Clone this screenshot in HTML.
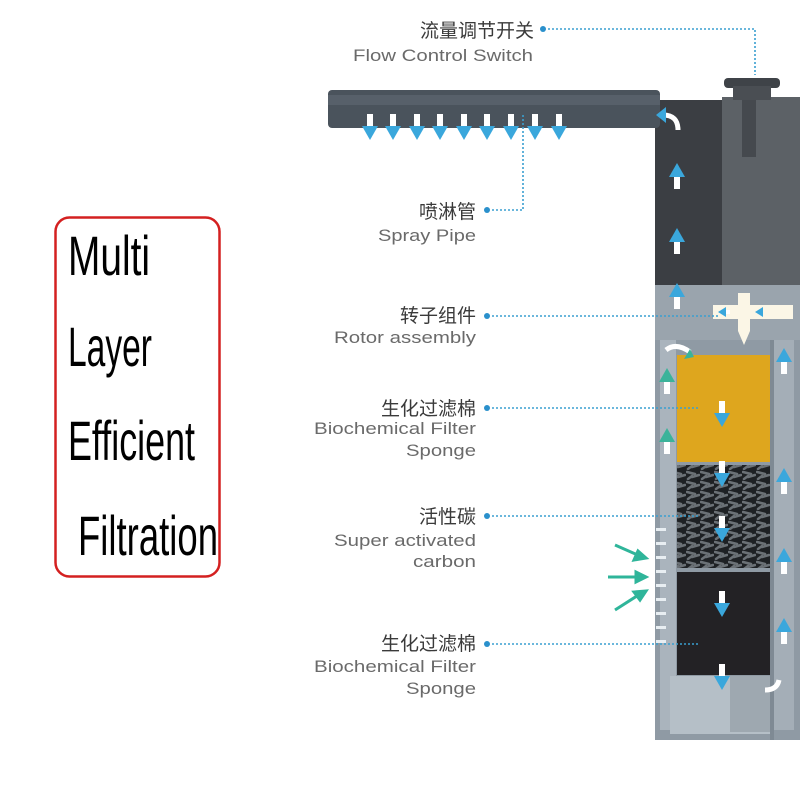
<!DOCTYPE html>
<html><head><meta charset="utf-8"><style>
html,body{margin:0;padding:0;background:#fff;width:800px;height:800px;overflow:hidden}
svg{display:block}
.cn{font-family:"Liberation Sans","Noto Sans CJK SC",sans-serif;font-size:19px;fill:#3a3a3a}
.en{font-family:"Liberation Sans",sans-serif;font-size:17px;fill:#6a6a6a}
.big{font-family:"Liberation Sans",sans-serif;font-size:56px;fill:#000}
.dl{stroke:#3a9fd0;stroke-width:1.6;stroke-dasharray:2 2;fill:none}
</style></head><body>
<svg width="800" height="800" viewBox="0 0 800 800" xmlns="http://www.w3.org/2000/svg">
<defs>
<g id="up"><rect x="-3" y="0" width="6" height="14" fill="#fff"/><path d="M-8 2 L0 -12 L8 2 Z" fill="#3aa7dc"/></g>
<g id="dn"><rect x="-3" y="-14" width="6" height="14" fill="#fff"/><path d="M-8 -2 L0 12 L8 -2 Z" fill="#3aa7dc"/></g>
<g id="upg"><rect x="-3" y="0" width="6" height="14" fill="#fff"/><path d="M-8 2 L0 -12 L8 2 Z" fill="#3bb39a"/></g>
<pattern id="carb" width="14" height="10" patternUnits="userSpaceOnUse"><rect width="14" height="10" fill="#1e2124"/><path d="M1 2 L9 4 M6 7 L13 5 M2 9 L6 6" stroke="#6b7176" stroke-width="2.5" stroke-linecap="round"/></pattern>
</defs>

<rect x="55.5" y="217.5" width="164" height="359" rx="14" fill="none" stroke="#d42020" stroke-width="2.5"/>
<text class="big" x="68" y="275" textLength="82" lengthAdjust="spacingAndGlyphs">Multi</text>
<text class="big" x="68" y="366" textLength="84" lengthAdjust="spacingAndGlyphs">Layer</text>
<text class="big" x="68" y="460" textLength="127" lengthAdjust="spacingAndGlyphs">Efficient</text>
<text class="big" x="78" y="555" textLength="140" lengthAdjust="spacingAndGlyphs">Filtration</text>

<rect x="655" y="285" width="145" height="455" fill="#8f9aa4"/>
<rect x="660" y="340" width="16" height="390" fill="#aab4bd"/>
<rect x="774" y="340" width="20" height="390" fill="#a4aeb7"/>
<rect x="770" y="340" width="4" height="400" fill="#7f8a94"/>
<rect x="677" y="355" width="93" height="107" fill="#dea61e"/>
<rect x="677" y="465" width="93" height="103" fill="url(#carb)"/>
<rect x="677" y="572" width="93" height="103" fill="#232225"/>
<rect x="670" y="676" width="100" height="58" fill="#b5bfc7"/>
<rect x="730" y="676" width="40" height="56" fill="#9ea8b0"/>
<g fill="#e8eef2"><rect x="656" y="528" width="10" height="3"/><rect x="656" y="542" width="10" height="3"/><rect x="656" y="556" width="10" height="3"/><rect x="656" y="570" width="10" height="3"/><rect x="656" y="584" width="10" height="3"/><rect x="656" y="598" width="10" height="3"/><rect x="656" y="612" width="10" height="3"/><rect x="656" y="626" width="10" height="3"/><rect x="656" y="640" width="10" height="3"/></g>
<rect x="655" y="100" width="70" height="187" fill="#3b3e43"/>
<rect x="722" y="97" width="78" height="193" fill="#5c6166"/>
<rect x="742" y="97" width="14" height="60" fill="#45494e"/>
<rect x="724" y="78" width="56" height="10" rx="4" fill="#3f4348"/>
<rect x="733" y="86" width="38" height="14" fill="#4a4e53"/>
<rect x="655" y="285" width="145" height="55" fill="#9aa4ad"/>
<path d="M713 305 h25 v-12 h12 v12 h43 v14 h-43 v12 h-12 v-12 h-25 z" fill="#fbf6e6"/>
<path d="M738 331 h12 l-6 14z" fill="#fbf6e6"/>
<rect x="328" y="90" width="332" height="38" rx="4" fill="#4a535c"/>
<rect x="328" y="95" width="332" height="10" fill="#5d6770" opacity=".7"/>
<use href="#dn" x="370" y="128"/><use href="#dn" x="393" y="128"/><use href="#dn" x="417" y="128"/><use href="#dn" x="440" y="128"/><use href="#dn" x="464" y="128"/><use href="#dn" x="487" y="128"/><use href="#dn" x="511" y="128"/><use href="#dn" x="535" y="128"/><use href="#dn" x="559" y="128"/>
<use href="#up" x="677" y="175"/>
<use href="#up" x="677" y="240"/>
<use href="#up" x="677" y="295"/>
<path d="M678 130 q0-15 -15-15" stroke="#fff" stroke-width="5" fill="none"/><path d="M656 115 l10-8 v16z" fill="#3aa7dc"/>
<path d="M730 312 h-10" stroke="#fff" stroke-width="4"/><path d="M718 312 l8-5 v10z" fill="#3aa7dc"/><path d="M755 312 l8-5 v10z" fill="#3aa7dc"/>
<use href="#upg" x="667" y="380"/><use href="#upg" x="667" y="440"/>
<use href="#up" x="784" y="360"/><use href="#up" x="784" y="480"/><use href="#up" x="784" y="560"/><use href="#up" x="784" y="630"/>
<use href="#dn" x="722" y="415"/><use href="#dn" x="722" y="475"/><use href="#dn" x="722" y="530"/><use href="#dn" x="722" y="605"/><use href="#dn" x="722" y="678"/>
<path d="M666 350 q10-8 24 2" stroke="#fff" stroke-width="5" fill="none"/><path d="M694 357 l-10 2 6-10z" fill="#3bb39a"/>
<path d="M765 690 q12 0 14-10" stroke="#fff" stroke-width="5" fill="none"/>
<g stroke="#2fb59a" stroke-width="3" fill="#2fb59a">
<line x1="615" y1="545" x2="640" y2="556"/><path d="M646 558 l-12 2 4-9z"/>
<line x1="608" y1="577" x2="638" y2="577"/><path d="M646 577 l-10 -5 v10z"/>
<line x1="615" y1="610" x2="640" y2="594"/><path d="M646 591 l-12 1 6 8z"/>
</g>

<g text-anchor="end">
<text class="cn" x="534" y="37">流量调节开关</text>
<text class="en" x="533" y="61" textLength="180" lengthAdjust="spacingAndGlyphs">Flow  Control  Switch</text>
<text class="cn" x="476" y="218">喷淋管</text>
<text class="en" x="476" y="241" textLength="98" lengthAdjust="spacingAndGlyphs">Spray Pipe</text>
<text class="cn" x="476" y="322">转子组件</text>
<text class="en" x="476" y="343" textLength="142" lengthAdjust="spacingAndGlyphs">Rotor assembly</text>
<text class="cn" x="476" y="415">生化过滤棉</text>
<text class="en" x="476" y="434" textLength="162" lengthAdjust="spacingAndGlyphs">Biochemical Filter</text>
<text class="en" x="476" y="456" textLength="70" lengthAdjust="spacingAndGlyphs">Sponge</text>
<text class="cn" x="476" y="523">活性碳</text>
<text class="en" x="476" y="546" textLength="142" lengthAdjust="spacingAndGlyphs">Super activated</text>
<text class="en" x="476" y="567" textLength="63" lengthAdjust="spacingAndGlyphs">carbon</text>
<text class="cn" x="476" y="650">生化过滤棉</text>
<text class="en" x="476" y="672" textLength="162" lengthAdjust="spacingAndGlyphs">Biochemical Filter</text>
<text class="en" x="476" y="694" textLength="70" lengthAdjust="spacingAndGlyphs">Sponge</text>
</g>
<g fill="#2a90cc">
<circle cx="543" cy="29" r="3"/><circle cx="487" cy="210" r="3"/><circle cx="487" cy="316" r="3"/><circle cx="487" cy="408" r="3"/><circle cx="487" cy="516" r="3"/><circle cx="487" cy="644" r="3"/>
</g>
<path class="dl" d="M548 29 H755 V75"/>
<path class="dl" d="M492 210 H523 V115"/>
<path class="dl" d="M492 316 H720"/>
<path class="dl" d="M492 408 H700"/>
<path class="dl" d="M492 516 H700"/>
<path class="dl" d="M492 644 H700"/>
</svg>
</body></html>
